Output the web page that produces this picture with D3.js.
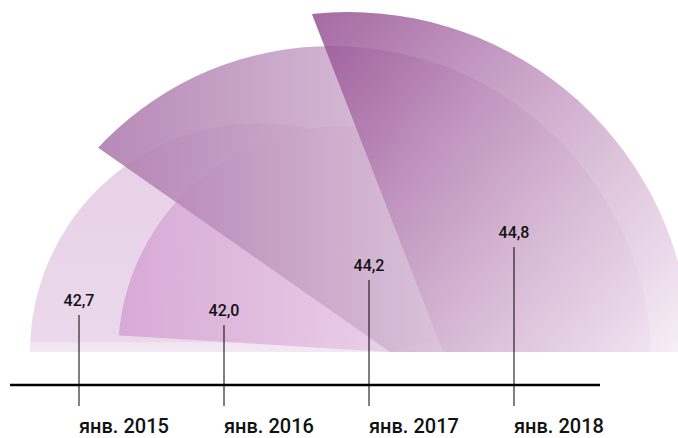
<!DOCTYPE html>
<html>
<head>
<meta charset="utf-8">
<script src="https://cdn.jsdelivr.net/npm/d3@7"></script>
<style>
  body { margin: 0; background: #fff; }
  text { font-family: Roboto, 'Noto Sans', sans-serif; fill: #111; font-weight: 500; }
</style>
</head>
<body>
<svg id="chart" width="678" height="438"></svg>
<script>
const months = ['янв. 2015', 'янв. 2016', 'янв. 2017', 'янв. 2018'];
const values = [42.7, 42.0, 44.2, 44.8];

// petal geometry (decorative): disc centre, wedge pivot and wedge span in degrees (ccw from east)
const petalDisc = [[259, 352], [346, 354], [332, 366], [348, 355]];
const petalPivot = [null, [390, 352], [390, 352], [443, 352]];
const petalSpan = [null, [15, 176.5], [-5, 145], [-5, 111.2]];
const petalOpacity = [1, 0.92, 0.88, 0.8];

const width = 678, height = 438;
const floorY = 352, axisY = 385, tickBottom = 406;

const ruFormat = d3.formatLocale({ decimal: ',', thousands: ' ', grouping: [3], currency: ['', ''] }).format('.1f');

const svg = d3.select('#chart');
const defs = svg.append('defs');

const x = d3.scalePoint().domain(months).range([79, 514]);
const sorted = values.slice().sort(d3.ascending);
// radius of each petal and height of each value marker
const r = d3.scaleLinear().domain(sorted).range([228, 229, 320, 343]);
const y = d3.scaleLinear().domain(sorted).range([325, 315, 280, 247]);

// gradients
function gradient(id, coords, stops) {
  const g = defs.append('linearGradient')
    .attr('id', id)
    .attr('gradientUnits', 'userSpaceOnUse')
    .attr('x1', coords[0]).attr('y1', coords[1])
    .attr('x2', coords[2]).attr('y2', coords[3]);
  stops.forEach(s => g.append('stop').attr('offset', s[0]).attr('stop-color', s[1]));
}
gradient('g0', [0, 123, 0, 352], [[0, '#e6cfe6'], [0.955, '#ebd9eb'], [0.96, '#f1e6f1'], [1, '#f2e8f2']]);
gradient('g1', [115, 0, 570, 0], [[0, '#d6a5d4'], [0.6, '#e9cde7'], [1, '#f0dcee']]);
gradient('g2', [97, 0, 650, 0], [[0, '#ad79ad'], [0.64, '#d9c1d8'], [1, '#ecdfec']]);
gradient('g3', [320, 20, 690, 380], [[0, '#91488e'], [0.33, '#ba88b8'], [0.6, '#d5b5d2'], [0.8, '#e6d1e6'], [1, '#faf4fa']]);

defs.append('clipPath').attr('id', 'floor')
  .append('rect').attr('x', 0).attr('y', 0).attr('width', width).attr('height', floorY);

const wedge = d3.arc().innerRadius(0).outerRadius(1200);
values.forEach((v, i) => {
  if (!petalSpan[i]) return;
  const [a0, a1] = petalSpan[i];
  defs.append('clipPath').attr('id', 'wedge' + i)
    .append('path')
    .attr('transform', `translate(${petalPivot[i][0]},${petalPivot[i][1]})`)
    .attr('d', wedge({ startAngle: (90 - a1) * Math.PI / 180, endAngle: (90 - a0) * Math.PI / 180 }));
});

const petals = svg.append('g').attr('clip-path', 'url(#floor)');
petals.selectAll('circle')
  .data(values)
  .enter()
  .append('circle')
  .attr('cx', (d, i) => petalDisc[i][0])
  .attr('cy', (d, i) => petalDisc[i][1])
  .attr('r', d => r(d))
  .attr('fill', (d, i) => `url(#g${i})`)
  .attr('fill-opacity', (d, i) => petalOpacity[i])
  .attr('clip-path', (d, i) => petalSpan[i] ? `url(#wedge${i})` : null);

// axis line
svg.append('line')
  .attr('x1', 10).attr('x2', 600)
  .attr('y1', axisY).attr('y2', axisY)
  .attr('stroke', '#000').attr('stroke-width', 2.5);

// value markers
svg.selectAll('.marker')
  .data(values)
  .enter()
  .append('line')
  .attr('class', 'marker')
  .attr('x1', (d, i) => x(months[i]))
  .attr('x2', (d, i) => x(months[i]))
  .attr('y1', d => y(d))
  .attr('y2', tickBottom)
  .attr('stroke', '#000')
  .attr('stroke-width', 1);

svg.selectAll('.value')
  .data(values)
  .enter()
  .append('text')
  .attr('class', 'value')
  .attr('x', (d, i) => x(months[i]))
  .attr('y', d => y(d) - 9)
  .attr('text-anchor', 'middle')
  .style('font-size', '16px')
  .text(d => ruFormat(d));

svg.selectAll('.month')
  .data(months)
  .enter()
  .append('text')
  .attr('class', 'month')
  .attr('x', d => x(d))
  .attr('y', 433)
  .attr('text-anchor', 'start')
  .style('font-size', '20px')
  .text(d => d);
</script>
</body>
</html>
